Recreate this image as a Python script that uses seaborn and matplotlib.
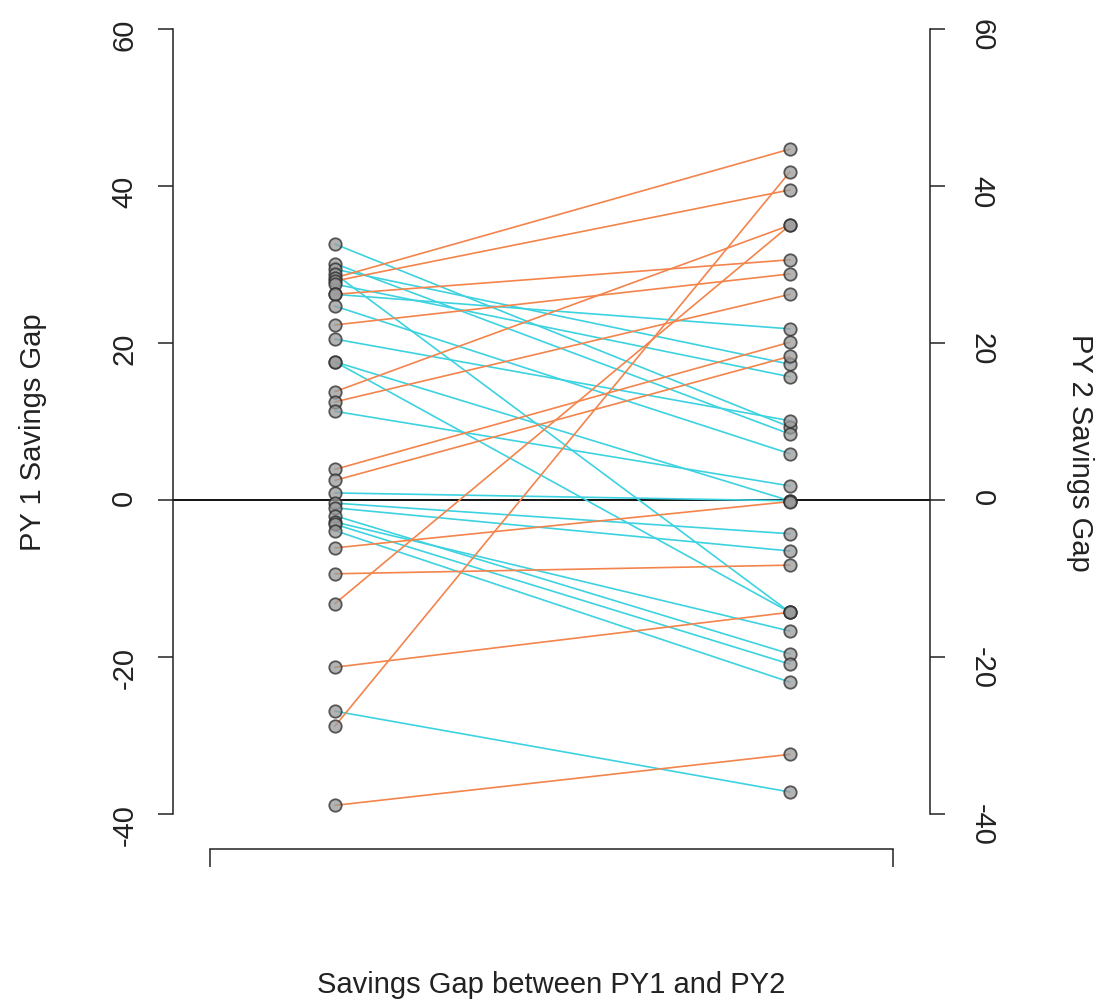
import numpy as np
import pandas as pd
import matplotlib
matplotlib.use("Agg")
import matplotlib.pyplot as plt
import seaborn as sns

# ---- data ----
py1 = [32.6, 30.1, 29.4, 28.8, 28.3, 27.9, 27.5, 26.2, 26.2, 24.7, 22.3, 20.5,
       17.6, 17.6, 13.8, 12.5, 11.3, 3.9, 2.5, 0.9, -0.4, -1.0, -2.0, -2.8,
       -3.1, -3.9, -6.1, -9.4, -13.2, -21.3, -26.9, -28.8, -38.9]
py2 = [9.3, 8.4, 17.3, -14.3, 44.7, 39.5, 15.7, 30.6, 21.8, 5.9, 28.8, 10.1,
       -14.3, -0.1, 35.0, 26.2, 1.8, 20.1, 18.3, -0.1, -4.3, -6.5, -19.6, -16.7,
       -20.9, -23.2, -0.2, -8.3, 35.0, -14.3, -37.2, 41.8, -32.4]
period_pos = [1, 2]
yticks = [-40, -20, 0, 20, 40, 60]
ytick_labels = ["-40", "-20", "0", "20", "40", "60"]
x_label = "Savings Gap between PY1 and PY2"
left_label = "PY 1 Savings Gap"
right_label = "PY 2 Savings Gap"

ORANGE = "#F3844C"
CYAN = "#3DD2E0"

rows = []
for i, (a, b) in enumerate(zip(py1, py2)):
    d = "up" if b > a else "down"
    rows.append(dict(id=i, x=period_pos[0], value=a, direction=d))
    rows.append(dict(id=i, x=period_pos[1], value=b, direction=d))
df = pd.DataFrame(rows)

sns.set_theme(style="white")
plt.rcParams["font.family"] = ["Liberation Sans", "DejaVu Sans"]

W, H = 1109, 1003
fig = plt.figure(figsize=(W / 100, H / 100), dpi=100)
ax = fig.add_axes([173 / W, 1 - 815 / H, 757 / W, 785 / H])

ax.axhline(0, color="black", lw=1.3, zorder=1)
sns.lineplot(data=df, x="x", y="value", hue="direction", units="id",
             estimator=None, sort=False, palette={"up": ORANGE, "down": CYAN},
             lw=1.2, legend=False, ax=ax, zorder=2)
sns.scatterplot(data=df, x="x", y="value", color="#9a9a9a", alpha=0.75,
                edgecolor="#2a2a2a", linewidth=1.3, s=80, legend=False,
                ax=ax, zorder=3)

ax.set_xlim(0.644, 2.308)
ax.set_ylim(-40, 60)
ax.set_xlabel("")
ax.set_ylabel("")
ax.set_yticks(yticks)
ax.set_yticklabels(ytick_labels)
ax.tick_params(axis="y", left=True, length=11, width=1.1, color="#222222",
               labelsize=21, labelrotation=90, pad=14, labelcolor="#222222")
ax.set_xticks([0.725, 2.226])
ax.set_xticklabels(["", ""])
ax.tick_params(axis="x", bottom=True, length=13, width=1.1, color="#222222",
               direction="out")
for s in ["top", "right"]:
    ax.spines[s].set_visible(False)
ax.spines["left"].set_color("#222222")
ax.spines["left"].set_linewidth(1.1)
ax.spines["bottom"].set_color("#222222")
ax.spines["bottom"].set_linewidth(1.1)
ax.spines["bottom"].set_position(("outward", 25.2))
ax.spines["bottom"].set_bounds(0.725, 2.226)

ax2 = ax.twinx()
ax2.set_ylim(-40, 60)
ax2.set_yticks(yticks)
ax2.set_yticklabels(ytick_labels)
ax2.tick_params(axis="y", right=True, length=11, width=1.1, color="#222222",
                labelsize=21, labelrotation=-90, pad=16, labelcolor="#222222")
for s in ["top", "left", "bottom"]:
    ax2.spines[s].set_visible(False)
ax2.spines["right"].set_color("#222222")
ax2.spines["right"].set_linewidth(1.1)
ax2.grid(False)

fig.text(551.5 / W, 1 - 985 / H, x_label, ha="center", va="center",
         fontsize=21, color="#222222")
fig.text(33 / W, 1 - 432 / H, left_label, ha="center", va="center",
         rotation=90, fontsize=21, color="#222222")
fig.text(1080 / W, 1 - 453 / H, right_label, ha="center", va="center",
         rotation=-90, fontsize=21, color="#222222")

fig.savefig("out.png", dpi=100, facecolor="white")
